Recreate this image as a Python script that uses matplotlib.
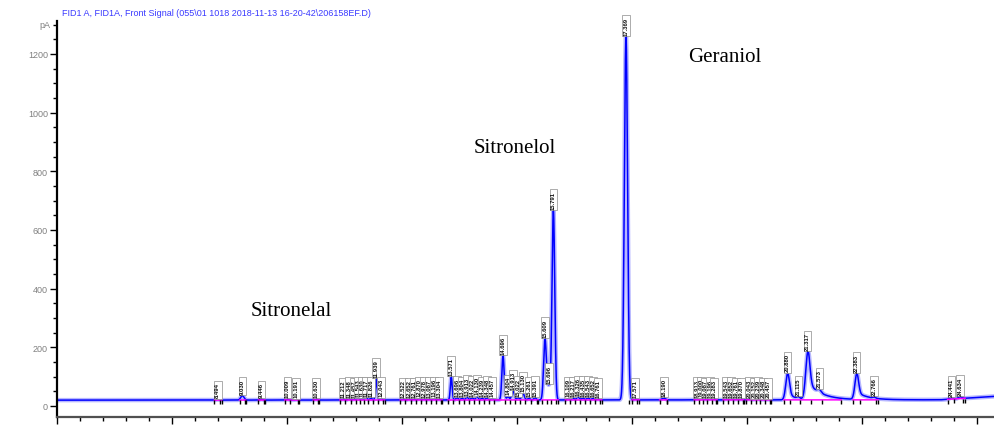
import numpy as np
import matplotlib
matplotlib.use("Agg")
import matplotlib.pyplot as plt
from matplotlib.ticker import MultipleLocator

# ---------------- data ----------------
title = r"FID1 A, FID1A, Front Signal (055\01 1018 2018-11-13 16-20-42\206158EF.D)"

peak_labels = ["8.494", "9.030", "9.446", "10.009", "10.191", "10.630",
               "11.212", "11.348", "11.457", "11.543", "11.630", "11.717", "11.826",
               "11.939", "12.043",
               "12.522", "12.652", "12.761", "12.870", "12.978", "13.087", "13.196", "13.304",
               "13.571",
               "13.696", "13.804", "13.913", "14.022", "14.130", "14.239", "14.348", "14.457",
               "14.696",
               "14.804", "14.913", "15.022", "15.130", "15.261", "15.391",
               "15.609", "15.696", "15.791",
               "16.109", "16.217", "16.326", "16.435", "16.543", "16.652", "16.761",
               "17.369", "17.571", "18.190",
               "18.913", "19.000", "19.087", "19.196", "19.283",
               "19.543", "19.652", "19.761", "19.870",
               "20.043", "20.152", "20.239", "20.348", "20.457",
               "20.880", "21.115", "21.317", "21.573", "22.383", "22.766",
               "24.441", "24.634"]
peak_times = [8.494, 9.030, 9.446, 10.009, 10.191, 10.630,
              11.212, 11.348, 11.457, 11.543, 11.630, 11.717, 11.826,
              11.939, 12.043,
              12.522, 12.652, 12.761, 12.870, 12.978, 13.087, 13.196, 13.304,
              13.571,
              13.696, 13.804, 13.913, 14.022, 14.130, 14.239, 14.348, 14.457,
              14.696,
              14.804, 14.913, 15.022, 15.130, 15.261, 15.391,
              15.609, 15.696, 15.791,
              16.109, 16.217, 16.326, 16.435, 16.543, 16.652, 16.761,
              17.369, 17.571, 18.190,
              18.913, 19.000, 19.087, 19.196, 19.283,
              19.543, 19.652, 19.761, 19.870,
              20.043, 20.152, 20.239, 20.348, 20.457,
              20.880, 21.115, 21.317, 21.573, 22.383, 22.766,
              24.441, 24.634]
peak_heights = [2, 15, 3, 3, 2, 3,
                4, 5, 4, 6, 5, 8, 6,
                72, 5,
                3, 4, 3, 5, 4, 4, 5, 4,
                78,
                8, 6, 10, 8, 12, 6, 8, 5,
                150,
                12, 30, 8, 22, 6, 8,
                208, 45, 645,
                5, 6, 10, 7, 8, 6, 4,
                1238, 3, 6,
                4, 5, 3, 4, 3,
                3, 4, 3, 3,
                3, 2, 3, 2, 2,
                78, 6, 132, 10, 75, 4,
                5, 6]
peak_widths = [0.03, 0.035, 0.03, 0.03, 0.03, 0.03,
               0.025, 0.025, 0.025, 0.025, 0.025, 0.025, 0.025,
               0.018, 0.025,
               0.025, 0.025, 0.025, 0.025, 0.025, 0.025, 0.025, 0.025,
               0.02,
               0.025, 0.025, 0.025, 0.025, 0.025, 0.025, 0.025, 0.025,
               0.025,
               0.025, 0.03, 0.025, 0.03, 0.025, 0.025,
               0.03, 0.03, 0.03,
               0.025, 0.025, 0.03, 0.025, 0.025, 0.025, 0.025,
               0.035, 0.03, 0.04,
               0.03, 0.03, 0.03, 0.03, 0.03,
               0.03, 0.03, 0.03, 0.03,
               0.03, 0.03, 0.03, 0.03, 0.03,
               0.04, 0.03, 0.045, 0.04, 0.04, 0.03,
               0.04, 0.04]

# tailing of late peaks: apex time, tail height, decay (min)
tail_times = [20.880, 21.317, 22.383]
tail_heights = [25, 60, 25]
tail_decay = [0.15, 0.30, 0.25]

# baseline drift
base_t = [5.0, 24.2, 25.4]
base_v = [20.0, 21.0, 33.0]

# integration baseline segments (start, end)
seg_start = [8.42, 8.97, 9.38, 9.95, 10.57, 11.15, 12.46, 13.50, 15.54, 16.05, 17.50, 18.10, 18.85, 19.48, 19.98, 20.80, 22.30, 24.36]
seg_end   = [8.58, 9.10, 9.52, 10.27, 10.70, 12.12, 13.37, 15.46, 15.90, 16.84, 17.66, 18.27, 19.35, 19.93, 20.52, 22.05, 22.85, 24.74]

annot_text = ["Sitronelal", "Sitronelol", "Geraniol"]
annot_x = [9.2, 14.05, 18.72]
annot_y = [325, 880, 1190]

# ---------------- build ----------------
fig = plt.figure(figsize=(9.95, 4.27), dpi=100)
xmax = 5 + 938 / 46
ax = fig.add_axes([57 / 995, 9 / 427, 938 / 995, 396 / 427])
ax.set_xlim(5, xmax)
ax.set_ylim(-37.5, 1312)

t = np.linspace(5, xmax, 12000)
sig = np.interp(t, base_t, base_v)
for t0, h, s in zip(peak_times, peak_heights, peak_widths):
    sig = sig + h * np.exp(-0.5 * ((t - t0) / s) ** 2)
for t0, h, tau in zip(tail_times, tail_heights, tail_decay):
    step = 1.0 / (1.0 + np.exp(-(t - t0) / 0.02))
    sig = sig + h * step * np.exp(-np.clip(t - t0, 0, None) / tau)

ax.plot(t, sig, color="#7070ff", lw=3.2, alpha=0.5, zorder=2, solid_capstyle="round")
ax.plot(t, sig, color="#0000ff", lw=1.1, zorder=2.1)

for a, b in zip(seg_start, seg_end):
    bv = np.interp([a, b], base_t, base_v)
    ax.plot([a, b], bv, color="#ff00ff", lw=1.1, zorder=2.2)
    ax.plot([a, b], bv - 8, ls="none", marker="|", ms=2.5, mew=1.0, color="black", zorder=2.3)

for lab, t0, s in zip(peak_labels, peak_times, peak_widths):
    apex = np.interp(t0, t, sig)
    ax.text(t0, apex + 7, lab,
            rotation=90, ha="center", va="bottom", fontsize=4.2, fontweight="bold",
            family="Liberation Sans", color="#111111", zorder=3,
            bbox=dict(boxstyle="square,pad=0.22", fc="white", ec="#8c8c8c", lw=0.5))
    ax.plot([t0 + 1.6 * s], [np.interp(t0, base_t, base_v) - 8], ls="none",
            marker="|", ms=2.5, mew=1.0, color="black", zorder=2.3)

for s, x, y in zip(annot_text, annot_x, annot_y):
    ax.text(x, y, s, family="Liberation Serif", fontsize=15, ha="left", va="center", color="black")

# axes styling
for side in ("top", "right"):
    ax.spines[side].set_visible(False)
ax.spines["left"].set_linewidth(1.6)
ax.spines["left"].set_color("black")
ax.spines["bottom"].set_linewidth(1.6)
ax.spines["bottom"].set_color("#505050")

ax.set_yticks([0, 200, 400, 600, 800, 1000, 1200])
ax.yaxis.set_minor_locator(MultipleLocator(50))
ax.set_xticks([5, 7.5, 10, 12.5, 15, 17.5, 20, 22.5, 25])
ax.set_xticklabels(["5", "7.5", "10", "12.5", "15", "17.5", "20", "22.5", "25"])
ax.xaxis.set_minor_locator(MultipleLocator(0.5))
ax.tick_params(axis="both", which="major", length=5, width=1.0, color="black",
               labelsize=6.5, labelcolor="#808080", pad=1.5)
ax.tick_params(axis="both", which="minor", length=3, width=1.0, color="black")
for lab in ax.get_yticklabels() + ax.get_xticklabels():
    lab.set_family("Liberation Sans")

ax.text(4.85, 1300, "pA", ha="right", va="center", fontsize=6.5, color="#808080",
        family="Liberation Sans")

fig.text(62 / 995, 1 - 13 / 427, title, ha="left", va="center", fontsize=6.5,
         color="#3a3aff", family="Liberation Sans")

fig.savefig("out.png", dpi=100)
